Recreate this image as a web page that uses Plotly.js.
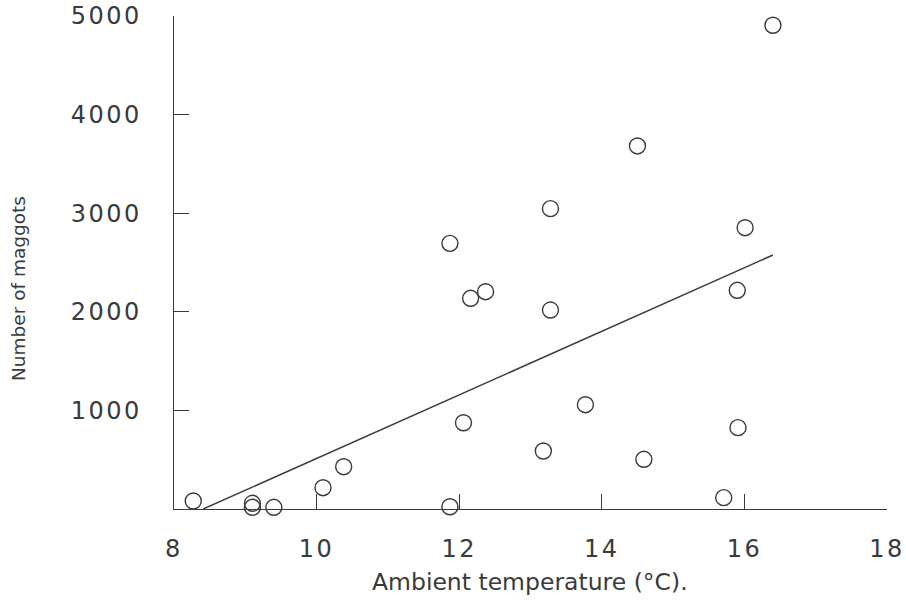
<!DOCTYPE html>
<html>
<head>
<meta charset="utf-8">
<script src="https://cdn.plot.ly/plotly-3.0.1.min.js"></script>
<style>
  html, body { margin: 0; padding: 0; background: #fff; }
  #chart { width: 906px; height: 604px; }
  .xtick text, .ytick text { letter-spacing: 2.5px; }
</style>
</head>
<body>
<div id="chart"></div>
<script>
// Observed data (temperature in °C, number of maggots)
const temperature = [8.27, 9.1, 9.1, 9.4, 10.09, 10.38, 11.87, 12.06, 11.87, 12.16, 12.37, 13.28, 13.28, 13.18, 13.77, 14.50, 14.59, 15.71, 15.90, 15.91, 16.01, 16.40];
const maggots     = [81,   58,  17,  17,  216,   429,   23,    875,   2694,  2137,  2204,  3046,  2018,  588,   1058,  3682,  504,   115,   2218,  825,   2853,  4906];

// Fitted regression line end points as drawn
const fitX = [8.41, 16.40];
const fitY = [0, 2576];

const xTicks = [8, 10, 12, 14, 16, 18];
const yTicks = [1000, 2000, 3000, 4000, 5000];

const ink = '#3a3a3a';

const traces = [
  {
    x: temperature, y: maggots, type: 'scatter', mode: 'markers',
    cliponaxis: false,
    marker: { symbol: 'circle-open', size: 16, color: ink, line: { width: 1.4, color: ink } },
    hoverinfo: 'x+y'
  },
  {
    x: fitX, y: fitY, type: 'scatter', mode: 'lines',
    cliponaxis: false,
    line: { color: ink, width: 1.4 },
    hoverinfo: 'skip'
  }
];

const layout = {
  width: 906, height: 604,
  margin: { l: 174, r: 19, t: 16, b: 95 },
  paper_bgcolor: '#ffffff', plot_bgcolor: '#ffffff',
  showlegend: false,
  font: { family: 'DejaVu Sans, Verdana, sans-serif', color: ink },
  xaxis: {
    range: [8, 18], tickvals: xTicks, ticktext: xTicks.map(String),
    ticks: 'inside', ticklen: 15, tickwidth: 1.3, tickcolor: ink,
    showline: true, linecolor: ink, linewidth: 1.3,
    showgrid: false, zeroline: false,
    tickfont: { size: 24, color: ink }, ticklabelstandoff: 18
  },
  yaxis: {
    range: [0, 5000], tickvals: yTicks, ticktext: yTicks.map(String),
    ticks: 'inside', ticklen: 15, tickwidth: 1.3, tickcolor: ink,
    showline: true, linecolor: ink, linewidth: 1.3,
    showgrid: false, zeroline: false,
    tickfont: { size: 24, color: ink }, ticklabelstandoff: 26
  },
  annotations: [
    { text: 'Ambient temperature (°C).', xref: 'paper', yref: 'paper',
      x: (530 - 174) / (887 - 174), y: -(582 - 509) / (509 - 16),
      xanchor: 'center', yanchor: 'middle', showarrow: false,
      font: { size: 23.5, color: ink } },
    { text: 'Number of maggots', xref: 'paper', yref: 'paper',
      x: -(174 - 18) / (887 - 174), y: (509 - 289) / (509 - 16),
      xanchor: 'center', yanchor: 'middle', showarrow: false, textangle: -90,
      font: { size: 18.5, color: ink } }
  ]
};

Plotly.newPlot('chart', traces, layout, { displayModeBar: false, staticPlot: true });
</script>
</body>
</html>
